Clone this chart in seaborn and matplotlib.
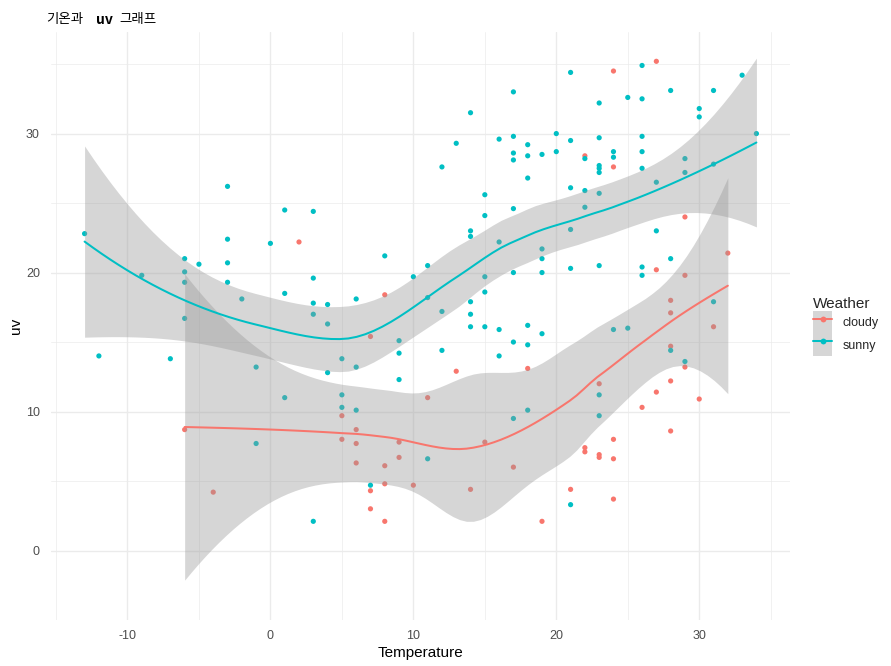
import numpy as np
import pandas as pd
import matplotlib
matplotlib.use("Agg")
import matplotlib.pyplot as plt
import seaborn as sns
from matplotlib.patches import Patch
from matplotlib.lines import Line2D
from matplotlib.legend_handler import HandlerTuple

# ---------------- data ----------------
cloudy_temp = [2, -6, -4, 8, 7, 13, 11, 5, 6, 5, 6, 9, 9, 6, 8, 8, 10, 7, 14, 7, 8,
               24, 22, 24, 27, 29, 32, 27, 29, 18, 23, 15, 17, 22, 22, 23, 23, 24, 24,
               21, 24, 19, 26, 28, 28, 31, 28, 29, 28, 27, 30, 28]
cloudy_uv = [22.2, 8.7, 4.2, 18.4, 15.4, 12.9, 11.0, 9.7, 8.7, 8.0, 7.7, 7.8, 6.7, 6.3,
             6.1, 4.8, 4.7, 4.3, 4.4, 3.0, 2.1,
             34.5, 28.4, 27.6, 35.2, 24.0, 21.4, 20.2, 19.8, 13.1, 12.0, 7.8, 6.0, 7.4,
             7.1, 6.9, 6.7, 8.0, 6.6, 4.4, 3.7, 2.1, 10.3, 18.0, 17.1, 16.1, 14.7, 13.2,
             12.2, 11.4, 10.9, 8.6]

sunny_temp = [-13, -3, 1, -3, 0, -6, -5, -3, -6, -9, -6, -3, 1, -2, -6, -12, -7, -1, 1, -1,
              3, 8, 11, 14, 14, 3, 10, 3, 4, 6, 11, 14, 3, 4, 12, 14, 14, 9, 9, 12, 5, 6,
              4, 9, 5, 5, 6, 11, 7, 3,
              14, 13, 12, 21, 26, 17, 23, 25, 26, 16, 17, 18, 20, 21, 23, 26, 17, 17, 18,
              19, 20, 22, 23, 23, 23, 24, 24, 26, 26, 18, 15, 15, 17, 21, 22, 23, 22, 21,
              16, 19, 19, 15, 17, 19, 21, 23, 26, 26, 15,
              28, 31, 33, 30, 30, 34, 29, 29, 27, 31, 27, 28,
              15, 16, 18, 19, 17, 18, 16, 24, 25, 23, 23, 18, 17, 21, 31, 28, 29]
sunny_uv = [22.8, 26.2, 24.5, 22.4, 22.1, 21.0, 20.6, 20.7, 20.05, 19.8, 19.3, 19.3, 18.5,
            18.1, 16.7, 14.0, 13.8, 13.2, 11.0, 7.7,
            24.4, 21.2, 20.5, 23.0, 22.6, 19.6, 19.7, 17.8, 17.7, 18.1, 18.2, 17.9, 17.0,
            16.3, 17.2, 17.0, 16.1, 15.1, 14.2, 14.4, 13.8, 13.2, 12.8, 12.3, 11.2, 10.3,
            10.1, 6.6, 4.7, 2.1,
            31.5, 29.3, 27.6, 34.4, 34.9, 33.0, 32.2, 32.6, 32.5, 29.6, 29.8, 29.2, 30.0,
            29.5, 29.7, 29.8, 28.6, 28.1, 28.4, 28.5, 28.7, 28.2, 27.7, 27.5, 27.2, 28.7,
            28.3, 28.7, 27.5, 26.8, 25.6, 24.1, 24.6, 26.1, 25.9, 25.7, 24.7, 23.1, 22.2,
            21.7, 21.0, 19.7, 20.0, 20.0, 20.3, 20.5, 20.4, 19.8, 18.6,
            33.1, 33.1, 34.2, 31.8, 31.2, 30.0, 28.2, 27.2, 26.5, 27.8, 23.0, 21.0,
            16.1, 15.9, 16.2, 15.6, 15.0, 14.8, 14.0, 15.9, 16.0, 11.2, 9.7, 10.1, 9.5,
            3.3, 17.9, 14.4, 13.6]

weather_levels = ["cloudy", "sunny"]
weather_colors = ["#F8766D", "#00BFC4"]

df = pd.DataFrame({
    "Temperature": cloudy_temp + sunny_temp,
    "uv": cloudy_uv + sunny_uv,
    "Weather": ["cloudy"] * len(cloudy_temp) + ["sunny"] * len(sunny_temp),
})


# ---------------- loess (degree 2, span 0.75, kd-tree interpolation as in R) ----------------
def local_rows(x, x0, span):
    n = len(x)
    q = int(np.floor(n * span))
    d = np.abs(x - x0)
    h = np.sort(d)[q - 1]
    if h <= 0:
        h = 1e-9
    u = d / h
    w = np.where(u < 1, (1 - u ** 3) ** 3, 0.0)
    X = np.column_stack([np.ones(n), x - x0, (x - x0) ** 2])
    XtW = X.T * w
    sol = np.linalg.solve(XtW @ X, XtW)
    return sol[0], sol[1]


def kd_leaves(x, fc):
    xs = np.sort(x)
    n = len(xs)
    a, b = xs[0], xs[-1]
    mu = 0.005 * max(b - a, 1e-10 * max(abs(a), abs(b)) + 1e-30)
    cells = [(0, n - 1, a - mu, b + mu)]
    leaves = []
    while cells:
        l, u, vlo, vhi = cells.pop(0)
        if (u - l + 1) <= fc:
            leaves.append((vlo, vhi))
            continue
        m = (l + u + 2) // 2 - 1
        off = 0
        while True:
            if m + off >= u or m + off < l:
                break
            if xs[m + off] == xs[m + off + 1]:
                off = -off
                if off >= 0:
                    off += 1
                continue
            m = m + off
            break
        sv = xs[m]
        if sv == vlo or sv == vhi:
            leaves.append((vlo, vhi))
            continue
        cells.append((l, m, vlo, sv))
        cells.append((m + 1, u, sv, vhi))
    return sorted(leaves)


def loess_operator(x, xeval, span=0.75, cell=0.2):
    n = len(x)
    fc = int(np.floor(n * span * cell))
    leaves = kd_leaves(x, fc)
    cache = {}

    def vert(v):
        if v not in cache:
            cache[v] = local_rows(x, v, span)
        return cache[v]

    rows = []
    for xe in xeval:
        for (v0, v1) in leaves:
            if v0 <= xe <= v1:
                break
        L0, D0 = vert(v0)
        L1, D1 = vert(v1)
        hh = v1 - v0
        t = (xe - v0) / hh
        h00 = 2 * t ** 3 - 3 * t ** 2 + 1
        h10 = t ** 3 - 2 * t ** 2 + t
        h01 = -2 * t ** 3 + 3 * t ** 2
        h11 = t ** 3 - t ** 2
        rows.append(h00 * L0 + h10 * hh * D0 + h01 * L1 + h11 * hh * D1)
    return np.array(rows)


def t_quantile_975(df_):
    z = 1.959963984540054
    g1 = (z ** 3 + z) / 4
    g2 = (5 * z ** 5 + 16 * z ** 3 + 3 * z) / 96
    g3 = (3 * z ** 7 + 19 * z ** 5 + 17 * z ** 3 - 15 * z) / 384
    return z + g1 / df_ + g2 / df_ ** 2 + g3 / df_ ** 3


def smooth_fit(xv, yv, n_out=80):
    x = np.asarray(xv, float)
    y = np.asarray(yv, float)
    xg = np.linspace(x.min(), x.max(), n_out)
    Ld = loess_operator(x, x)
    res = y - Ld @ y
    IL = np.eye(len(x)) - Ld
    M = IL.T @ IL
    d1 = np.trace(M)
    d2 = np.trace(M @ M)
    s2 = np.sum(res ** 2) / d1
    Lg = loess_operator(x, xg)
    fit = Lg @ y
    se = np.sqrt(s2 * np.sum(Lg ** 2, axis=1))
    tq = t_quantile_975(d1 ** 2 / d2)
    return xg, fit, fit - tq * se, fit + tq * se


fits = {}
for lev in weather_levels:
    sub = df[df["Weather"] == lev]
    fits[lev] = smooth_fit(sub["Temperature"].values, sub["uv"].values)

# ---------------- figure ----------------
sns.set_style("white")
plt.rcParams["font.family"] = ["Liberation Sans", "Noto Sans CJK KR", "DejaVu Sans"]
plt.rcParams["axes.unicode_minus"] = False

W, H = 891, 666
fig = plt.figure(figsize=(W / 100, H / 100), dpi=100)
left, right, top, bottom = 51, 790, 32, 620
ax = fig.add_axes([left / W, 1 - bottom / H, (right - left) / W, (bottom - top) / H])

pal = dict(zip(weather_levels, weather_colors))
sns.scatterplot(data=df, x="Temperature", y="uv", hue="Weather", palette=pal,
                hue_order=weather_levels, s=14, linewidth=0, ax=ax, legend=False,
                zorder=2)

for lev in weather_levels:
    xg, fit, lo, hi = fits[lev]
    ax.fill_between(xg, lo, hi, color="#999999", alpha=0.4, linewidth=0, zorder=3)
    sns.lineplot(x=xg, y=fit, color=pal[lev], linewidth=1.45, ax=ax, zorder=4)

# limits with ggplot's 5% expansion
all_x = np.array(cloudy_temp + sunny_temp, float)
ymins = [min(cloudy_uv + sunny_uv)] + [fits[l][2].min() for l in weather_levels]
ymaxs = [max(cloudy_uv + sunny_uv)] + [fits[l][3].max() for l in weather_levels]
xr = all_x.max() - all_x.min()
ax.set_xlim(all_x.min() - 0.05 * xr, all_x.max() + 0.05 * xr)
ymn, ymx = min(ymins), max(ymaxs)
yr = ymx - ymn
ax.set_ylim(ymn - 0.05 * yr, ymx + 0.05 * yr)

ax.set_xticks([-10, 0, 10, 20, 30])
ax.set_xticks([-15, -5, 5, 15, 25, 35], minor=True)
ax.set_yticks([0, 10, 20, 30])
ax.set_yticks([-5, 5, 15, 25, 35], minor=True)
ax.grid(True, which="major", color="#EBEBEB", linewidth=1.0, zorder=0)
ax.grid(True, which="minor", color="#EBEBEB", linewidth=0.5, zorder=0)
ax.set_axisbelow(True)
for s in ax.spines.values():
    s.set_visible(False)
ax.tick_params(which="both", length=0)
ax.tick_params(axis="x", labelsize=9, labelcolor="#4D4D4D", pad=7)
ax.tick_params(axis="y", labelsize=9, labelcolor="#4D4D4D", pad=8)

ax.set_xlabel("Temperature", fontsize=11, color="black", labelpad=3)
ax.set_ylabel("uv", fontsize=11, color="black", labelpad=2)

# title: "기온과 uv 그래프" (the "uv" is rendered bold in the reference)
ty = 1 - 19 / H
fig.text(46 / W, ty, "기온과", fontsize=9.7, va="center", ha="left",
         family=["Noto Sans CJK KR", "DejaVu Sans"], color="black")
fig.text(96 / W, ty - 1.5 / H, "uv", fontsize=10, va="center", ha="left",
         family=["Noto Sans CJK KR", "DejaVu Sans"], fontweight="bold", color="black")
fig.text(119 / W, ty, "그래프", fontsize=9.7, va="center", ha="left",
         family=["Noto Sans CJK KR", "DejaVu Sans"], color="black")

handles = [(Patch(facecolor="#999999", alpha=0.4, edgecolor="none"),
            Line2D([], [], color=c, lw=1.45, marker="o", ms=4.2, markeredgewidth=0))
           for c in weather_colors]
leg = fig.legend(handles, weather_levels, title="Weather",
                 handler_map={tuple: HandlerTuple(ndivide=1, pad=0)},
                 loc="upper left", bbox_to_anchor=(807 / W, 1 - 291 / H),
                 bbox_transform=fig.transFigure, frameon=False, borderpad=0,
                 fontsize=9, title_fontsize=11, handlelength=1.5, handleheight=2.4,
                 labelspacing=0.0, handletextpad=0.85, alignment="left", numpoints=1)

fig.savefig("out.png", dpi=100)
